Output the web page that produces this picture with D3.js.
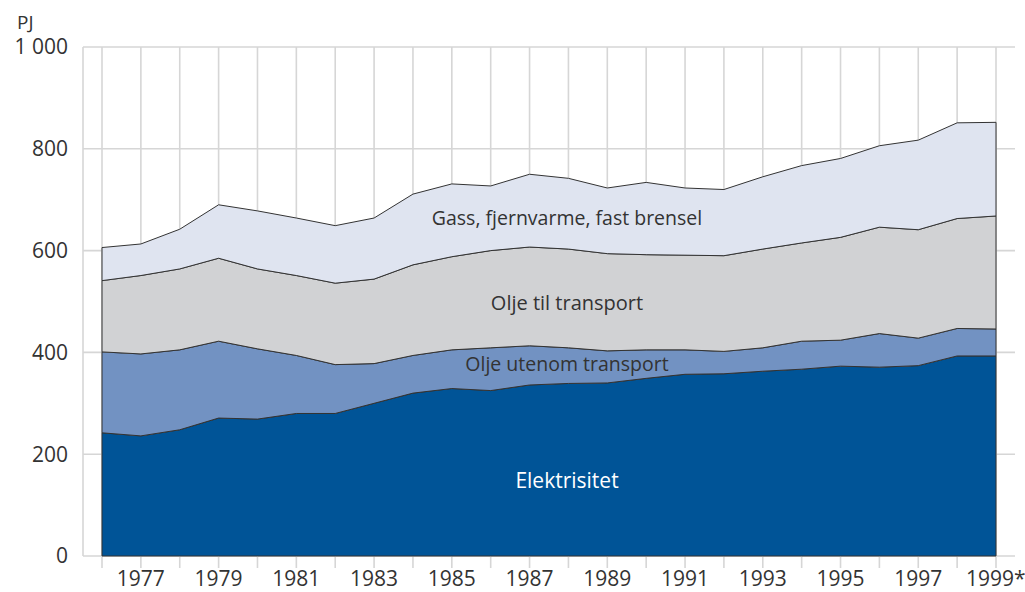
<!DOCTYPE html>
<html>
<head>
<meta charset="utf-8">
<script src="https://cdn.jsdelivr.net/npm/d3@7"></script>
<style>
  body { margin: 0; background: #fff; }
  svg text { font-family: "Open Sans", "Noto Sans", sans-serif; }
</style>
</head>
<body>
<svg id="chart" width="1025" height="592"></svg>
<script>
const years = d3.range(1976, 2000);
const elektrisitet = [242, 236, 248, 271, 269, 280, 280, 300, 320, 329, 325, 336, 339, 340, 349, 357, 358, 363, 367, 373, 371, 374, 393, 393];
const oljeUtenom = [159, 161, 157, 151, 138, 114, 96, 78, 74, 76, 84, 77, 70, 63, 56, 48, 44, 46, 55, 51, 66, 54, 54, 53];
const oljeTransport = [140, 154, 159, 163, 157, 157, 160, 166, 178, 183, 191, 194, 194, 191, 187, 186, 188, 194, 193, 202, 209, 213, 216, 222];
const gass = [65, 62, 78, 105, 114, 113, 113, 120, 139, 143, 127, 143, 139, 129, 142, 132, 130, 142, 152, 155, 160, 176, 188, 184];

const seriesKeys = ["elektrisitet", "oljeUtenom", "oljeTransport", "gass"];
const seriesColors = ["#005497", "#7292c2", "#d1d2d4", "#dfe4f0"];
const yTicks = [0, 200, 400, 600, 800, 1000];
const xLabels = years.filter(y => y % 2 === 1);

const svg = d3.select("#chart");
const margin = { left: 102, right: 29, top: 47, bottom: 36 };
const width = 1025, height = 592;

const table = years.map((y, i) => ({
    year: y,
    elektrisitet: elektrisitet[i],
    oljeUtenom: oljeUtenom[i],
    oljeTransport: oljeTransport[i],
    gass: gass[i]
}));

const x = d3.scaleLinear().domain([1976, 1999]).range([margin.left, width - margin.right]);
const y = d3.scaleLinear().domain([0, 1000]).range([height - margin.bottom, margin.top]);

const gridColor = "#d6d6d6";
const gridLeft = 83, gridRight = 1015;

// horizontal grid
svg.append("g").selectAll("line")
    .data(yTicks)
    .join("line")
    .attr("x1", gridLeft).attr("x2", gridRight)
    .attr("y1", d => y(d)).attr("y2", d => y(d))
    .attr("stroke", gridColor).attr("stroke-width", 1.6);

// left grid edge
svg.append("line")
    .attr("x1", gridLeft).attr("x2", gridLeft)
    .attr("y1", y(1000)).attr("y2", y(0))
    .attr("stroke", gridColor).attr("stroke-width", 1.6);

// vertical grid + ticks
svg.append("g").selectAll("line")
    .data(years)
    .join("line")
    .attr("x1", d => x(d)).attr("x2", d => x(d))
    .attr("y1", y(1000)).attr("y2", y(0) + 12)
    .attr("stroke", gridColor).attr("stroke-width", 1.6);

// stacked areas
const stack = d3.stack().keys(seriesKeys);
const layers = stack(table);
const area = d3.area()
    .x(d => x(d.data.year))
    .y0(d => y(d[0]))
    .y1(d => y(d[1]));

svg.append("g").selectAll("path")
    .data(layers)
    .join("path")
    .attr("d", area)
    .attr("fill", (d, i) => seriesColors[i])
    .attr("stroke", "#333")
    .attr("stroke-width", 1)
    .attr("stroke-linejoin", "round");

// y labels
svg.append("g").selectAll("text")
    .data(yTicks)
    .join("text")
    .attr("x", 68)
    .attr("y", d => y(d))
    .attr("dy", "0.35em")
    .attr("text-anchor", "end")
    .attr("font-size", 21)
    .attr("fill", "#333")
    .text(d => d === 1000 ? "1 000" : d);

svg.append("text")
    .attr("x", 17).attr("y", 22)
    .attr("dy", "0.35em")
    .attr("font-size", 19)
    .attr("fill", "#333")
    .text("PJ");

// x labels
svg.append("g").selectAll("text")
    .data(xLabels)
    .join("text")
    .attr("x", d => d === 1999 ? 966 : x(d))
    .attr("y", 586)
    .attr("text-anchor", d => d === 1999 ? "start" : "middle")
    .attr("font-size", 21)
    .attr("fill", "#333")
    .text(d => d === 1999 ? "1999*" : d);

// series labels
const seriesLabels = [
    { text: "Elektrisitet", x: 567, y: 481, color: "#fff", size: 21 },
    { text: "Olje utenom transport", x: 567, y: 364, color: "#333", size: 19.5 },
    { text: "Olje til transport", x: 567, y: 303, color: "#333", size: 20 },
    { text: "Gass, fjernvarme, fast brensel", x: 567, y: 218, color: "#333", size: 19.5 }
];
svg.append("g").selectAll("text")
    .data(seriesLabels)
    .join("text")
    .attr("x", d => d.x).attr("y", d => d.y)
    .attr("dy", "0.35em")
    .attr("text-anchor", "middle")
    .attr("font-size", d => d.size)
    .attr("fill", d => d.color)
    .text(d => d.text);
</script>
</body>
</html>
